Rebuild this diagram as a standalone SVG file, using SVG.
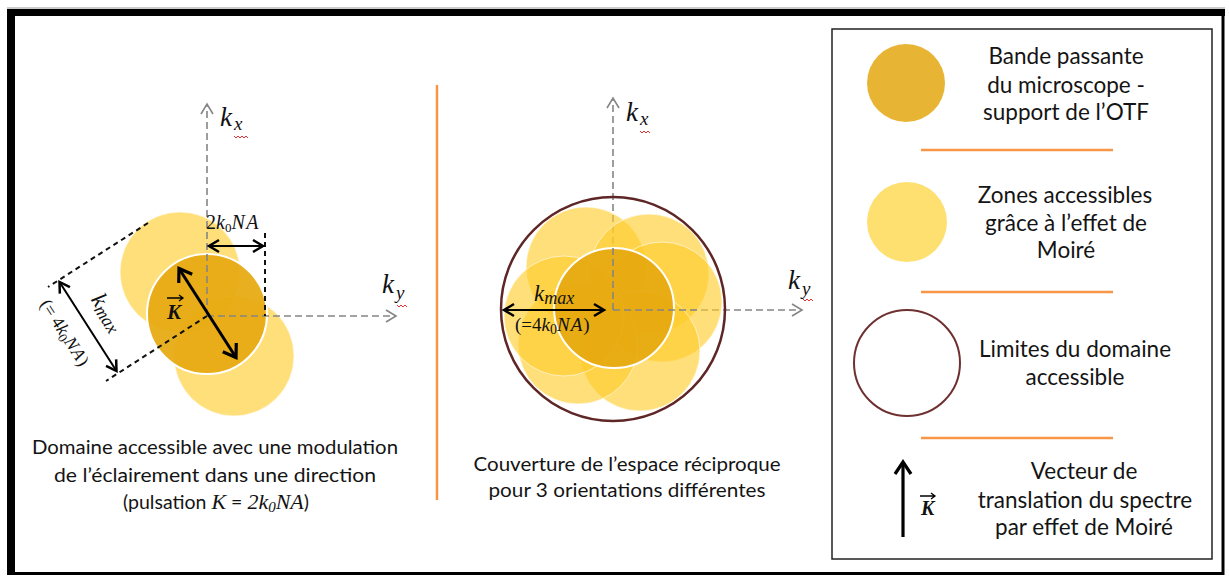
<svg xmlns="http://www.w3.org/2000/svg" width="1229" height="576" viewBox="0 0 1229 576">
<style>
.lbl{font-family:Lato,"Liberation Sans",sans-serif;font-size:22.5px;fill:#141414;text-anchor:middle}
.cap{font-family:Lato,"Liberation Sans",sans-serif;font-size:19.5px;fill:#141414;text-anchor:middle}
.math{font-family:"Liberation Serif","DejaVu Serif",serif;font-style:italic;fill:#111}
.axis{stroke:#858585;stroke-width:1.6;stroke-dasharray:7 4;fill:none}
.dim{stroke:#111;stroke-width:2;stroke-dasharray:5 4;fill:none}
.sep{stroke:#F79646;stroke-width:2.5}
.dark{fill:#E6A910;fill-opacity:0.93;stroke:#fff;stroke-width:2}
.light{fill:#FFCC28;fill-opacity:0.62;stroke:#fff;stroke-width:1;stroke-opacity:0.6}
.arr{stroke:#000;fill:none}
.sq{stroke:#e03030;stroke-width:1;fill:none}
</style>
<defs>
<marker id="ga" markerWidth="14" markerHeight="14" refX="11" refY="7" orient="auto" markerUnits="userSpaceOnUse">
<path d="M1,1 L11,7 L1,13" fill="none" stroke="#858585" stroke-width="1.6"/>
</marker>
<marker id="ba" markerWidth="16" markerHeight="16" refX="12" refY="8" orient="auto-start-reverse" markerUnits="userSpaceOnUse">
<path d="M2,2 L12,8 L2,14" fill="none" stroke="#000" stroke-width="2.5"/>
</marker>
<marker id="bb" markerWidth="20" markerHeight="20" refX="15" refY="10" orient="auto-start-reverse" markerUnits="userSpaceOnUse">
<path d="M3,2 L15,10 L3,18" fill="none" stroke="#000" stroke-width="3.2"/>
</marker>
</defs>
<rect width="1229" height="576" fill="#fff"/>
<g id="frame">
<line x1="7" y1="8" x2="1225" y2="8" stroke="#999" stroke-width="1"/>
<rect x="11" y="12.5" width="1212" height="561" fill="none" stroke="#000" stroke-width="3"/>
<rect x="7" y="9" width="8" height="566" fill="#000"/>
<rect x="7" y="9" width="1218" height="7" fill="#000"/>
</g>

<g id="left-panel">
<circle class="light" cx="180" cy="272" r="60"/>
<circle class="light" cx="234" cy="356" r="60"/>
<circle class="dark" cx="207" cy="314" r="60"/>
</g>

<g id="connectors">
<line class="axis" x1="207" y1="316" x2="207" y2="104" marker-end="url(#ga)"/>
<line class="axis" x1="207" y1="316" x2="396" y2="316" marker-end="url(#ga)"/>
<line class="dim" x1="148" y1="223" x2="48" y2="287"/>
<line class="dim" x1="207" y1="316" x2="106" y2="381"/>
<line class="dim" x1="265" y1="233" x2="265" y2="316"/>
<line class="arr" stroke-width="2" x1="209" y1="246" x2="263" y2="246" marker-start="url(#ba)" marker-end="url(#ba)"/>
<line class="arr" stroke-width="2" x1="59.5" y1="282" x2="116.5" y2="371" marker-start="url(#ba)" marker-end="url(#ba)"/>
<line class="arr" stroke-width="3" x1="179" y1="268.5" x2="236" y2="357.5" marker-start="url(#bb)" marker-end="url(#bb)"/>
<line class="axis" x1="613" y1="310" x2="613" y2="98" marker-end="url(#ga)"/>
<line class="axis" x1="613" y1="310" x2="802" y2="310" marker-end="url(#ga)"/>
</g>

<g id="left-labels">
<text class="math" x="220" y="126" font-size="27">k</text>
<text class="math" x="234" y="130" font-size="19">x</text>
<path class="sq" d="M234,136 l2,2 l2,-2 l2,2 l2,-2 l2,2 l2,-2 l2,2"/>
<text class="math" x="382" y="293" font-size="27">k</text>
<text class="math" x="396" y="299" font-size="19">y</text>
<path class="sq" d="M397,305 l2,2 l2,-2 l2,2 l2,-2 l2,2"/>
<text class="math" x="206" y="229" font-size="20"><tspan font-style="normal">2</tspan>k<tspan font-size="13" dy="3" font-style="normal">0</tspan><tspan dy="-3" letter-spacing="1.5">NA</tspan></text>
<text class="math" x="82" y="309" font-size="23" transform="rotate(57.4 95 312)">k<tspan font-size="18" dy="3">max</tspan></text>
<text class="math" x="20" y="334" font-size="18" transform="rotate(57.4 57 337)"><tspan font-style="normal">(=</tspan> <tspan font-style="normal">4</tspan>k<tspan font-size="13" dy="3" font-style="normal">0</tspan><tspan dy="-3" letter-spacing="1">NA</tspan><tspan font-style="normal">)</tspan></text>
<text class="math" x="167" y="319" font-size="21" font-weight="bold">K</text>
<path d="M167,298 h16 m-4,-3 l4,3 l-4,3" stroke="#000" stroke-width="1.3" fill="none"/>
</g>

<g id="left-caption">
<text class="cap" x="215" y="454" textLength="366" lengthAdjust="spacingAndGlyphs">Domaine accessible avec une modulation</text>
<text class="cap" x="215" y="482" textLength="322" lengthAdjust="spacingAndGlyphs">de l’éclairement dans une direction</text>
<text class="cap" x="216" y="509">(pulsation <tspan class="math" font-size="22">K</tspan> = <tspan class="math" font-style="normal" font-size="22">2</tspan><tspan class="math" font-size="22">k</tspan><tspan class="math" font-style="normal" font-size="15" dy="3">0</tspan><tspan class="math" font-size="22" dy="-3">NA</tspan>)</text>
</g>

<line id="separator" x1="437" y1="85" x2="437" y2="500" stroke="#F79646" stroke-width="2.5"/>

<g id="middle-panel">
<circle class="light" cx="586" cy="267" r="60"/>
<circle class="light" cx="649" cy="274" r="60"/>
<circle class="light" cx="662" cy="302" r="60"/>
<circle class="light" cx="640" cy="351" r="60"/>
<circle class="light" cx="578" cy="344" r="60"/>
<circle class="light" cx="564" cy="316" r="60"/>
<circle class="dark" cx="614" cy="308" r="60"/>
<circle cx="613" cy="309" r="112" fill="none" stroke="#5E2626" stroke-width="2.5"/>
</g>

<g id="middle-connectors">
<line class="axis" x1="613" y1="248" x2="613" y2="310"/>
<line class="axis" x1="613" y1="310" x2="700" y2="310"/>
<line class="arr" stroke-width="2" x1="504" y1="310" x2="604" y2="310" marker-start="url(#ba)" marker-end="url(#ba)"/>
</g>

<g id="middle-labels">
<text class="math" x="626" y="121" font-size="27">k</text>
<text class="math" x="640" y="125" font-size="19">x</text>
<path class="sq" d="M640,131 l2,2 l2,-2 l2,2 l2,-2 l2,2"/>
<text class="math" x="788" y="289" font-size="27">k</text>
<text class="math" x="802" y="295" font-size="19">y</text>
<path class="sq" d="M803,299 l2,2 l2,-2 l2,2 l2,-2 l2,2"/>
<text class="math" x="534" y="301" font-size="23">k<tspan font-size="18" dy="3">max</tspan></text>
<text class="math" x="515" y="331" font-size="19"><tspan font-style="normal">(=4</tspan>k<tspan font-size="14" dy="3" font-style="normal">0</tspan><tspan dy="-3" letter-spacing="1">NA</tspan><tspan font-style="normal">)</tspan></text>
</g>

<g id="middle-caption">
<text class="cap" x="627" y="471" textLength="307" lengthAdjust="spacingAndGlyphs">Couverture de l’espace réciproque</text>
<text class="cap" x="627" y="497" textLength="277" lengthAdjust="spacingAndGlyphs">pour 3 orientations différentes</text>
</g>

<g id="legend">
<rect x="832" y="29" width="380" height="530" fill="#fff" stroke="#222" stroke-width="1.5"/>
<line class="sep" x1="921" y1="150" x2="1113" y2="150"/>
<line class="sep" x1="921" y1="292" x2="1113" y2="292"/>
<line class="sep" x1="921" y1="438" x2="1113" y2="438"/>
</g>
<g id="legend-otf">
<circle cx="906" cy="83" r="39" fill="#E8B433"/>
<text class="lbl" x="1066" y="64">Bande passante</text>
<text class="lbl" x="1066" y="93">du microscope -</text>
<text class="lbl" x="1066" y="120">support de l’OTF</text>
</g>
<g id="legend-moire">
<circle cx="907" cy="222" r="40" fill="#FDE070"/>
<text class="lbl" x="1065" y="203">Zones accessibles</text>
<text class="lbl" x="1066" y="231">grâce à l’effet de</text>
<text class="lbl" x="1066" y="258">Moiré</text>
</g>
<g id="legend-limit">
<circle cx="907" cy="363" r="53" fill="none" stroke="#6E3030" stroke-width="2"/>
<text class="lbl" x="1075" y="357">Limites du domaine</text>
<text class="lbl" x="1075" y="385">accessible</text>
</g>
<g id="legend-vector">
<line class="arr" stroke-width="3.2" x1="903" y1="537" x2="903" y2="462" marker-end="url(#bb)"/>
<text class="math" x="921" y="515" font-size="20" font-weight="bold">K</text>
<path d="M920,496 h15 m-4,-3 l4,3 l-4,3" stroke="#000" stroke-width="1.3" fill="none"/>
<text class="lbl" x="1084" y="479">Vecteur de</text>
<text class="lbl" x="1085" y="508">translation du spectre</text>
<text class="lbl" x="1084" y="535">par effet de Moiré</text>
</g>
</svg>
